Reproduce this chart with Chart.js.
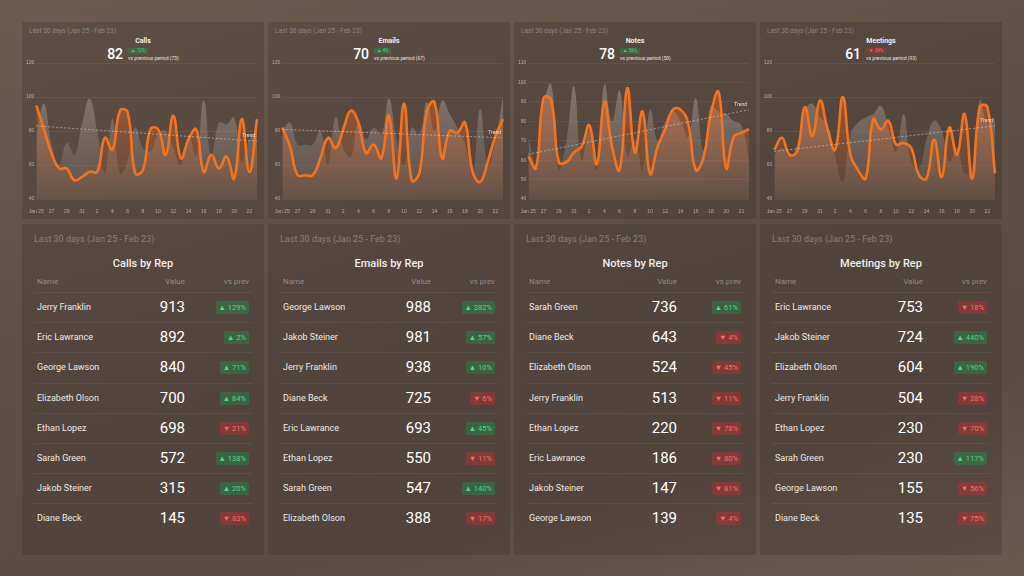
<!DOCTYPE html>
<html lang="en">
<head>
<meta charset="UTF-8">
<title>Activity Dashboard</title>
<script src="https://cdn.jsdelivr.net/npm/chart.js"></script>
<style>
  * { box-sizing: border-box; margin: 0; padding: 0; }
  body {
    width: 1024px; height: 576px; overflow: hidden;
    font-family: Roboto, "Noto Sans", sans-serif;
    background: linear-gradient(165deg, #6d5b4f 0%, #5d4f46 45%, #5a4c43 75%, #6b5a4e 100%);
    position: relative;
  }
  .panel { position: absolute; background: rgba(45, 38, 33, 0.22); }
  .sub { position: absolute; color: rgba(255,255,255,0.33); white-space: nowrap; }
  .top .sub { left: 7px; top: 5px; font-size: 6.5px; }
  .top .ttl { position: absolute; left: 0; right: 0; top: 15px; text-align: center; color: #f2eeea; font-size: 7px; font-weight: 700; }
  .kpi { position: absolute; left: 0; right: 0; top: 24px; display: flex; justify-content: center; align-items: center; gap: 5px; }
  .kpi .num { color: #fff; font-size: 14px; font-weight: 500; }
  .kpi .info { display: flex; flex-direction: column; align-items: flex-start; gap: 1px; }
  .kpi .vs { color: #e8e2dd; font-size: 5px; }
  .mini { font-size: 4.5px; padding: 0 3px; border-radius: 1px; line-height: 6px; }
  .up { background: rgba(30, 150, 80, 0.4); color: #49d88a; }
  .down { background: rgba(200, 45, 50, 0.4); color: #ff6a6a; }
  .chartbox { position: absolute; left: 2px; top: 36px; width: 237px; height: 159px; }
  .bottom .sub { left: 12px; top: 10px; font-size: 9px; }
  .bottom .ttl { position: absolute; left: 0; right: 0; top: 33px; text-align: center; color: #f2eeea; font-size: 11px; font-weight: 500; }
  .hdr { position: absolute; top: 53px; left: 15px; right: 15px; height: 12px; font-size: 8px; color: rgba(255,255,255,0.38); }
  .hdr span, .row span { position: absolute; white-space: nowrap; }
  .c1 { left: 0; }
  .c2 { right: 64px; }
  .c3 { right: 0; }
  .row { position: absolute; left: 12px; right: 12px; height: 30px; border-top: 1px solid rgba(255,255,255,0.06); }
  .row:first-of-type { border-top: none; }
  .row .c1 { left: 3px; top: 9px; font-size: 9px; color: #efe9e4; }
  .row .c2 { right: 67px; top: 5px; font-size: 15px; color: #fff; font-weight: 400; }
  .row .c3 { right: 3px; top: 8px; font-size: 7.5px; padding: 2px 3px; border-radius: 2px; }
</style>
</head>
<body>
<div id="dash"></div>
<script>
// shared x labels
const days = ['Jan 25','26','27','28','29','30','31','1','2','3','4','5','6','7','8','9','10','11','12','13','14','15','16','17','18','19','20','21','22','23'];
const periodText = 'Last 30 days (Jan 25 - Feb 23)';

// top charts
const metricNames = ['Calls', 'Emails', 'Notes', 'Meetings'];
const metricTotals = [82, 70, 78, 61];
const metricPrev = [73, 67, 50, 93];
const metricChange = ['▲ 12%', '▲ 4%', '▲ 56%', '▼ 34%'];
const yMins = [40, 40, 40, 40];
const yMaxs = [120, 120, 110, 120];
const ySteps = [20, 20, 10, 20];

const callsCurrent = [95, 81, 67, 58, 58, 51, 53, 56, 56, 76, 69, 92, 91, 55, 57, 81, 81, 66, 89, 64, 75, 81, 56, 66, 58, 65, 52, 87, 56, 87];
const callsPrevious = [76, 96, 72, 60, 73, 66, 84, 99, 80, 55, 87, 55, 62, 82, 70, 68, 78, 80, 70, 60, 78, 65, 98, 65, 85, 84, 88, 62, 75, 80];
const emailsCurrent = [82, 71, 54, 54, 54, 64, 76, 70, 81, 92, 85, 67, 72, 64, 89, 52, 96, 51, 55, 92, 97, 64, 80, 79, 85, 56, 50, 62, 77, 87];
const emailsPrevious = [80, 85, 72, 72, 72, 80, 60, 88, 70, 65, 85, 75, 82, 78, 99, 75, 60, 82, 78, 97, 80, 98, 90, 82, 72, 55, 93, 60, 75, 100];
const notesCurrent = [62, 56, 92, 91, 59, 59, 64, 67, 78, 58, 90, 67, 55, 97, 64, 85, 53, 67, 76, 86, 86, 79, 55, 61, 84, 95, 56, 72, 74, 76];
const notesPrevious = [72, 58, 88, 99, 55, 70, 98, 60, 75, 55, 99, 80, 96, 62, 70, 55, 86, 70, 80, 85, 80, 72, 92, 65, 88, 85, 84, 80, 78, 60];
const meetingsCurrent = [69, 76, 66, 68, 94, 77, 98, 81, 69, 100, 66, 57, 52, 87, 81, 86, 72, 73, 70, 54, 52, 75, 53, 82, 66, 90, 52, 94, 94, 55];
const meetingsPrevious = [66, 70, 65, 72, 92, 96, 88, 84, 65, 50, 78, 85, 88, 90, 95, 82, 68, 90, 62, 58, 75, 86, 80, 62, 70, 55, 60, 98, 85, 88];
const trendStart = [83, 81, 63, 68];
const trendEnd = [74, 76, 86, 83];

// bottom tables
const callsReps = ['Jerry Franklin', 'Eric Lawrance', 'George Lawson', 'Elizabeth Olson', 'Ethan Lopez', 'Sarah Green', 'Jakob Steiner', 'Diane Beck'];
const callsValues = [913, 892, 840, 700, 698, 572, 315, 145];
const callsDelta = [129, 2, 71, 84, -21, 138, 20, -83];
const emailsReps = ['George Lawson', 'Jakob Steiner', 'Jerry Franklin', 'Diane Beck', 'Eric Lawrance', 'Ethan Lopez', 'Sarah Green', 'Elizabeth Olson'];
const emailsValues = [988, 981, 938, 725, 693, 550, 547, 388];
const emailsDelta = [382, 57, 10, -6, 45, -11, 140, -17];
const notesReps = ['Sarah Green', 'Diane Beck', 'Elizabeth Olson', 'Jerry Franklin', 'Ethan Lopez', 'Eric Lawrance', 'Jakob Steiner', 'George Lawson'];
const notesValues = [736, 643, 524, 513, 220, 186, 147, 139];
const notesDelta = [61, -4, -45, -11, -78, -80, -81, -4];
const meetingsReps = ['Eric Lawrance', 'Jakob Steiner', 'Elizabeth Olson', 'Jerry Franklin', 'Ethan Lopez', 'Sarah Green', 'George Lawson', 'Diane Beck'];
const meetingsValues = [753, 724, 604, 504, 230, 230, 155, 135];
const meetingsDelta = [-18, 440, 190, -28, -70, 117, -56, -75];

const currentSets = [callsCurrent, emailsCurrent, notesCurrent, meetingsCurrent];
const previousSets = [callsPrevious, emailsPrevious, notesPrevious, meetingsPrevious];
const repSets = [callsReps, emailsReps, notesReps, meetingsReps];
const valueSets = [callsValues, emailsValues, notesValues, meetingsValues];
const deltaSets = [callsDelta, emailsDelta, notesDelta, meetingsDelta];

const panelX = [22, 268, 514, 760];
const dash = document.getElementById('dash');

// build the panels
metricNames.forEach(function (name, k) {
    const top = document.createElement('div');
    top.className = 'panel top';
    top.style.cssText = 'left:' + panelX[k] + 'px;top:22px;width:242px;height:197px;';
    const cls = metricChange[k].startsWith('▲') ? 'up' : 'down';
    top.innerHTML =
        '<div class="sub">' + periodText + '</div>' +
        '<div class="ttl">' + name + '</div>' +
        '<div class="kpi"><div class="num">' + metricTotals[k] + '</div>' +
        '<div class="info"><span class="mini ' + cls + '">' + metricChange[k] + '</span>' +
        '<span class="vs">vs previous period (' + metricPrev[k] + ')</span></div></div>' +
        '<div class="chartbox"><canvas id="chart' + k + '"></canvas></div>';
    dash.appendChild(top);

    const bot = document.createElement('div');
    bot.className = 'panel bottom';
    bot.style.cssText = 'left:' + panelX[k] + 'px;top:224px;width:242px;height:331px;';
    let html = '<div class="sub">' + periodText + '</div>' +
        '<div class="ttl">' + name + ' by Rep</div>' +
        '<div class="hdr"><span class="c1">Name</span><span class="c2">Value</span><span class="c3">vs prev</span></div>';
    repSets[k].forEach(function (rep, i) {
        const d = deltaSets[k][i];
        const badge = d >= 0 ? '<span class="c3 up">▲ ' + d + '%</span>' : '<span class="c3 down">▼ ' + Math.abs(d) + '%</span>';
        html += '<div class="row" style="top:' + (68 + i * 30.2) + 'px">' +
            '<span class="c1">' + rep + '</span><span class="c2">' + valueSets[k][i] + '</span>' + badge + '</div>';
    });
    bot.innerHTML = html;
    dash.appendChild(bot);
});

function verticalFill(r, g, b, a0, a1) {
    return function (context) {
        const area = context.chart.chartArea;
        if (!area) return 'rgba(' + r + ',' + g + ',' + b + ',' + a0 + ')';
        const grad = context.chart.ctx.createLinearGradient(0, area.top, 0, area.bottom);
        grad.addColorStop(0, 'rgba(' + r + ',' + g + ',' + b + ',' + a0 + ')');
        grad.addColorStop(1, 'rgba(' + r + ',' + g + ',' + b + ',' + a1 + ')');
        return grad;
    };
}

// "Trend" text next to the end of the trend line
const trendLabel = {
    id: 'trendLabel',
    afterDatasetsDraw(chart) {
        const pts = chart.getDatasetMeta(0).data;
        const last = pts[pts.length - 1];
        const c = chart.ctx;
        c.save();
        c.font = '5px Roboto';
        c.fillStyle = 'rgba(255,255,255,0.8)';
        c.textAlign = 'right';
        c.fillText('Trend', last.x - 2, last.y - 4);
        c.restore();
    }
};

currentSets.forEach(function (cur, k) {
    const trend = days.map(function (d, i) {
        return i === 0 ? trendStart[k] : (i === days.length - 1 ? trendEnd[k] : null);
    });
    new Chart(document.getElementById('chart' + k), {
        type: 'line',
        data: {
            labels: days,
            datasets: [
                { data: trend, borderColor: 'rgba(235,230,225,0.5)', borderWidth: 1, borderDash: [2, 2], pointRadius: 0, spanGaps: true, fill: false, tension: 0 },
                { data: cur, borderColor: '#f5731f', borderWidth: 2.6, pointRadius: 0, tension: 0.45, fill: 'start', backgroundColor: verticalFill(232, 108, 40, 0.55, 0.04) },
                { data: previousSets[k], borderColor: 'rgba(0,0,0,0)', borderWidth: 0, pointRadius: 0, tension: 0.45, fill: 'start', backgroundColor: verticalFill(175, 165, 160, 0.55, 0.1) }
            ]
        },
        options: {
            responsive: true,
            maintainAspectRatio: false,
            animation: false,
            layout: { padding: { top: 3, right: 4, left: 0, bottom: 0 } },
            plugins: { legend: { display: false }, tooltip: { enabled: false } },
            scales: {
                x: {
                    grid: { display: false },
                    border: { display: false },
                    ticks: {
                        color: 'rgba(255,255,255,0.5)', font: { size: 5 }, maxRotation: 0, autoSkip: false, padding: 2,
                        callback: function (v, i) { return i % 2 === 0 ? days[i] : ''; }
                    }
                },
                y: {
                    min: yMins[k], max: yMaxs[k],
                    grid: { color: 'rgba(255,255,255,0.06)', drawTicks: false },
                    border: { display: false },
                    ticks: { stepSize: ySteps[k], color: 'rgba(255,255,255,0.5)', font: { size: 5 }, padding: 2 }
                }
            }
        },
        plugins: [trendLabel]
    });
});
</script>
</body>
</html>
